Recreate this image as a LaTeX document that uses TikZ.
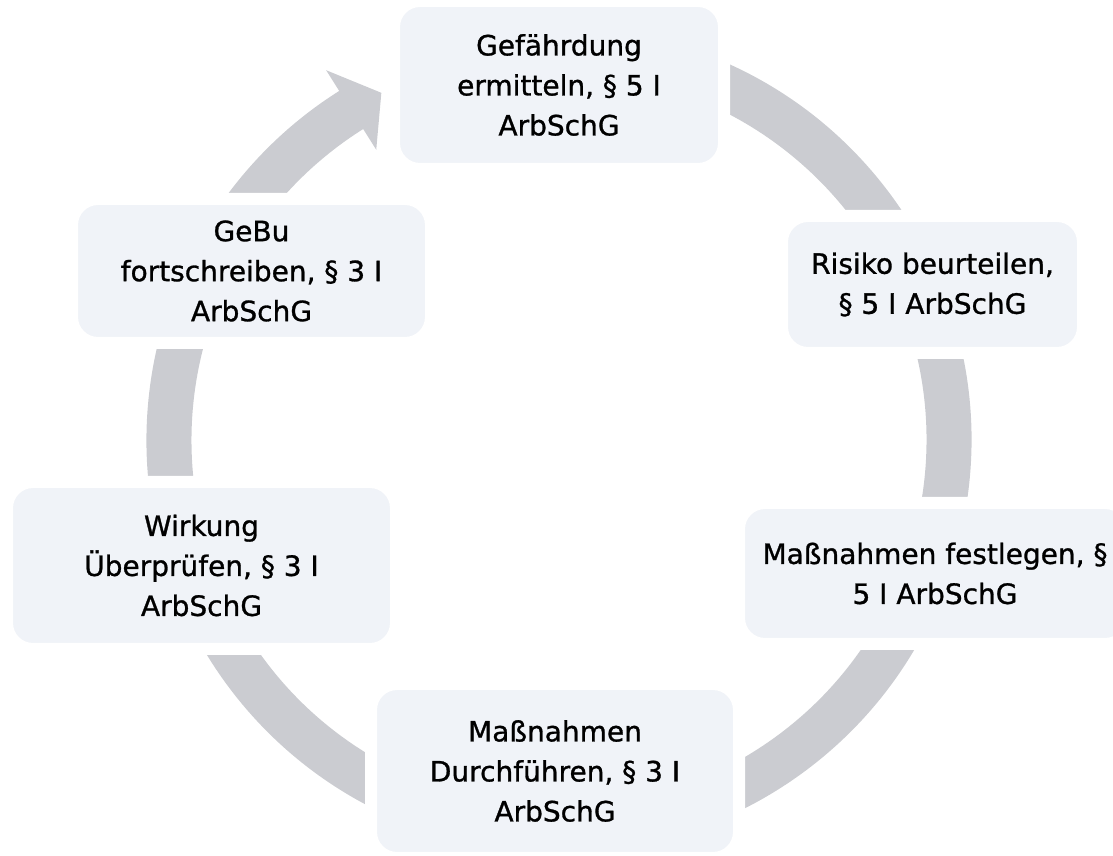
\documentclass[tikz,border=0pt]{standalone}
\usepackage{fontspec}
\setmainfont{DejaVu Sans}[FakeBold=1]
\definecolor{ringgray}{RGB}{203,204,209}
\definecolor{boxfill}{RGB}{240,243,248}
\begin{document}
\begin{tikzpicture}[x=1pt, y=1pt,
                    every node/.style={fill=boxfill, draw=white, line width=12pt, rounded corners=26pt,
                                       align=center, inner sep=0pt, font=\fontsize{28}{40}\selectfont}
                    ]

                    \useasboundingbox (0,0) rectangle (1113,856);
                    \clip (0,0) rectangle (1113,856);

                    % cycle ring with arrow head
                    \fill[ringgray, shift={(559,416)}]
                        (80:412.5) arc[start angle=80, end angle=-237.8, radius=412.5]
                        -- (-237.8:437) -- (-242.9:390) -- (-237.8:343)
                        -- (-237.8:367.5) arc[start angle=-237.8, end angle=80, radius=367.5] -- cycle;

                    \node[minimum width=330, minimum height=168] (1) at (559,771) {Gefährdung\\ermitteln, § 5 I\\ArbSchG};
                    \node[minimum width=301, minimum height=137] (2) at (932.5,571.5) {Risiko beurteilen,\\§ 5 I ArbSchG};
                    \node[minimum width=392, minimum height=141] (3) at (935,282.5) {Maßnahmen festlegen, §\\5 I ArbSchG};
                    \node[minimum width=368, minimum height=174] (4) at (555,85) {Maßnahmen\\Durchführen, § 3 I\\ArbSchG};
                    \node[minimum width=389, minimum height=167] (5) at (201.5,290.5) {Wirkung\\Überprüfen, § 3 I\\ArbSchG};
                    \node[minimum width=359, minimum height=144] (6) at (251.5,585) {GeBu\\fortschreiben, § 3 I\\ArbSchG};

                \end{tikzpicture}
\end{document}
